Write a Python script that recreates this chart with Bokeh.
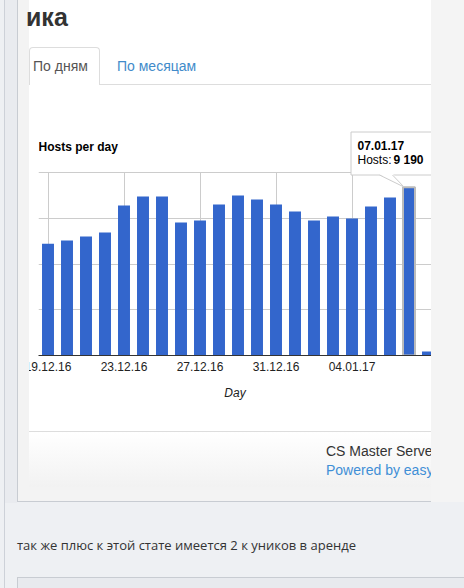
import pandas as pd
from bokeh.plotting import figure
from bokeh.layouts import column, row
from bokeh.models import (Range1d, FixedTicker, DatetimeTickFormatter, BoxAnnotation,
                          Label, PolyAnnotation, Grid, Arrow, Div)
from bokeh.embed import file_html
from bokeh.resources import INLINE

# ---------------- data ----------------
days = ["2016-12-19", "2016-12-20", "2016-12-21", "2016-12-22", "2016-12-23",
        "2016-12-24", "2016-12-25", "2016-12-26", "2016-12-27", "2016-12-28",
        "2016-12-29", "2016-12-30", "2016-12-31", "2017-01-01", "2017-01-02",
        "2017-01-03", "2017-01-04", "2017-01-05", "2017-01-06", "2017-01-07",
        "2017-01-08"]
hosts = [6100, 6280, 6500, 6720, 8200, 8690, 8690, 7270, 7380, 8250,
         8740, 8520, 8250, 7870, 7380, 7600, 7490, 8140, 8630, 9190, 220]
tick_days = ["2016-12-19", "2016-12-23", "2016-12-27", "2016-12-31", "2017-01-04"]
y_ticks = [0, 2500, 5000, 7500, 10000]
focus_day = "2017-01-07"
series_name = "Hosts"
chart_title = "Hosts per day"
x_title = "Day"
page_title = "ика"
tab_active = "По дням"
tab_other = "По месяцам"
footer_1 = "CS Master Serve"
footer_2 = "Powered by easy"
post_text = "так же плюс к этой стате имеется 2 к уников в аренде"

FONT = "Liberation Sans"
DAY = 86400000

# ---------------- layout constants (pixels) ----------------
W, H = 464, 588
TOP_H = 85            # header block height
MID_H = 346           # chart block height
BOT_H = H - TOP_H - MID_H
LEFT_W = 29
RIGHT_W = 33
TUCK = 9              # figure slides under the left strip by this much
FIG_W = W - LEFT_W - RIGHT_W + TUCK
PX_DAY = 19.0
FRAME_LEFT = 18       # inside figure
FRAME_TOP = 15
FRAME_BOTTOM_BORDER = 76
PX_TOP_GRID = 183.0   # pixels from baseline to top gridline

x_ms = [pd.Timestamp(d).value // 10**6 for d in days]
tick_ms = [pd.Timestamp(d).value // 10**6 for d in tick_days]
frame_w = FIG_W - FRAME_LEFT
frame_h = MID_H - FRAME_TOP - FRAME_BOTTOM_BORDER
start = x_ms[0] - DAY / 2
end = start + frame_w / PX_DAY * DAY
y_end = y_ticks[-1] * frame_h / PX_TOP_GRID

p = figure(width=FIG_W, height=MID_H, x_axis_type="datetime", y_axis_type=None,
           x_range=Range1d(start, end), y_range=Range1d(0, y_end),
           output_backend="svg", toolbar_location=None,
           min_border_left=FRAME_LEFT, min_border_right=0, min_border_top=FRAME_TOP,
           min_border_bottom=FRAME_BOTTOM_BORDER, margin=(0, 0, 0, -TUCK))
p.outline_line_color = None
p.background_fill_color = "white"
p.border_fill_color = "white"

# grids
p.xgrid.ticker = FixedTicker(ticks=tick_ms)
p.xgrid.grid_line_color = "#cccccc"
p.xgrid.cross_bounds = (y_ticks[0], y_ticks[-1])
p.add_layout(Grid(dimension=1, ticker=FixedTicker(ticks=y_ticks), grid_line_color="#cccccc"))

# x axis
ax = p.xaxis[0]
ax.ticker = FixedTicker(ticks=tick_ms)
fmt = "%d.%m.%y"
ax.formatter = DatetimeTickFormatter(milliseconds=fmt, seconds=fmt, minsec=fmt, minutes=fmt,
                                     hourmin=fmt, hours=fmt, days=fmt, months=fmt, years=fmt)
ax.major_tick_line_color = None
ax.minor_tick_line_color = None
ax.major_tick_out = 0
ax.major_tick_in = 0
ax.axis_line_color = "#333333"
ax.major_label_text_font = FONT
ax.major_label_text_font_size = "12px"
ax.major_label_text_color = "#222222"
ax.major_label_standoff = 6
ax.axis_label = x_title
ax.axis_label_text_font = FONT
ax.axis_label_text_font_size = "12px"
ax.axis_label_text_font_style = "italic"
ax.axis_label_text_color = "#222222"
ax.axis_label_standoff = 12

# bars
bw = 0.63 * DAY
p.vbar(x=x_ms, top=hosts, width=bw, fill_color="#3366cc", line_color=None)
fi = days.index(focus_day)
p.vbar(x=[x_ms[fi]], top=[hosts[fi]], width=bw, fill_color="#3366cc",
       line_color="#bbbbbb", line_width=2)


def clabel(xx, yy, text, size="12px", color="#000000", style="normal"):
    p.add_layout(Label(x=xx + TUCK, y=yy, x_units="canvas", y_units="canvas", text=text,
                       text_font=FONT, text_font_size=size, text_color=color,
                       text_font_style=style, text_baseline="middle", text_align="left"))


# chart title
clabel(9, 61, chart_title, style="bold")

# tooltip (coordinates relative to the white panel's left edge)
p.add_layout(BoxAnnotation(left=321.5 + TUCK, right=430 + TUCK, top=46.5, bottom=89.5,
                           left_units="canvas", right_units="canvas",
                           top_units="canvas", bottom_units="canvas",
                           fill_color="white", fill_alpha=1.0,
                           line_color="#cccccc", line_alpha=1.0, line_width=1))
p.add_layout(PolyAnnotation(xs=[349.5 + TUCK, 363.5 + TUCK, 374.5 + TUCK], ys=[88.5, 88.5, 101.5],
                            xs_units="canvas", ys_units="canvas",
                            fill_color="white", fill_alpha=1.0, line_color=None))
for xs0 in (350, 363):
    p.add_layout(Arrow(x_start=xs0 + TUCK, y_start=89.5, x_end=374.5 + TUCK, y_end=101.5,
                       start_units="canvas", end_units="canvas", end=None,
                       line_color="#cccccc", line_width=1))
focus_label = pd.Timestamp(focus_day).strftime("%d.%m.%y")
clabel(328, 60, focus_label, style="bold")
clabel(328, 74, series_name + ": ")
clabel(364, 74, f"{hosts[fi]:,}".replace(",", " "), style="bold")

# ---------------- page chrome (HTML) ----------------
LEFT_BG = ("linear-gradient(to right, #eef0f3 0px, #eef0f3 4px, #cdd1d8 4px, #cdd1d8 5px, "
           "#e9ebef 5px, #e9ebef 17px, #c8ccd2 17px, #c8ccd2 18px, #f3f3f3 18px, #f3f3f3 29px)")


def abs_text(left, top, text, size, color, weight="normal", lh=None, extra=""):
    lh = lh or round(size * 1.15)
    return (f'<div style="position:absolute;left:{left}px;top:{top}px;white-space:nowrap;'
            f'font-family:\'{FONT}\';font-size:{size}px;line-height:{lh}px;color:{color};'
            f'font-weight:{weight};{extra}">{text}</div>')


PANEL_W = W - LEFT_W - RIGHT_W
top_html = (
    f'<div style="position:relative;width:{W}px;height:{TOP_H}px;overflow:hidden;background:#f4f4f4;">'
    f'<div style="position:absolute;left:0;top:0;width:{LEFT_W}px;height:{TOP_H}px;background:{LEFT_BG};"></div>'
    f'<div style="position:absolute;left:{LEFT_W}px;top:0;width:{PANEL_W}px;height:{TOP_H}px;background:white;"></div>'
    f'<div style="position:absolute;left:29px;top:47px;width:71px;height:38px;background:white;'
    f'border:1px solid #dddddd;border-bottom:none;border-radius:4px 4px 0 0;box-sizing:border-box;"></div>'
    f'<div style="position:absolute;left:100px;top:84px;width:331px;height:1px;background:#dddddd;"></div>'
    + abs_text(26, 2, page_title, 25, "#333333", "bold", 30)
    + abs_text(33, 58, tab_active, 14, "#555555", lh=16)
    + abs_text(117, 58, tab_other, 14, "#428bca", lh=16)
    + '</div>'
)

left_html = (f'<div style="width:{LEFT_W}px;height:{MID_H}px;background:{LEFT_BG};"></div>')
right_html = f'<div style="width:{RIGHT_W}px;height:{MID_H}px;background:#f4f4f4;"></div>'

bot_html = (
    f'<div style="position:relative;width:{W}px;height:{BOT_H}px;overflow:hidden;background:#eef0f3;">'
    f'<div style="position:absolute;left:4px;top:0;width:1px;height:{BOT_H}px;background:#cdd1d8;"></div>'
    f'<div style="position:absolute;left:5px;top:0;width:12px;height:72px;background:#e9ebef;"></div>'
    f'<div style="position:absolute;left:17px;top:0;width:447px;height:71px;background:#f3f3f3;'
    f'border-left:1px solid #c8ccd2;border-bottom:1px solid #c8ccd2;"></div>'
    f'<div style="position:absolute;left:431px;top:0;width:33px;height:71px;background:#f4f4f4;"></div>'
    f'<div style="position:absolute;left:29px;top:0;width:402px;height:56px;overflow:hidden;'
    f'border-top:1px solid #dddddd;background:linear-gradient(to bottom, #ffffff, #f2f2f2);">'
    + abs_text(297, 11, footer_1, 14, "#333333", lh=16)
    + abs_text(297, 30, footer_2, 14, "#3f8fd6", lh=16)
    + '</div>'
    + abs_text(17, 105, post_text, 13, "#333333", lh=18, extra="font-family:'Open Sans';")
    + f'<div style="position:absolute;left:17px;top:146px;width:460px;height:20px;background:#e8eaee;'
      f'border-left:1px solid #c8ccd2;border-top:1px solid #c8ccd2;"></div>'
    + '</div>'
)

div_kw = dict(margin=0)
top_div = Div(text=top_html, width=W, height=TOP_H, styles={"overflow": "hidden"}, **div_kw)
left_div = Div(text=left_html, width=LEFT_W, height=MID_H,
               styles={"overflow": "hidden", "position": "relative", "z-index": "5"}, **div_kw)
right_div = Div(text=right_html, width=RIGHT_W, height=MID_H, styles={"overflow": "hidden"}, **div_kw)
bot_div = Div(text=bot_html, width=W, height=BOT_H, styles={"overflow": "hidden"}, **div_kw)

mid = row(left_div, p, right_div, spacing=0)
page = column(top_div, mid, bot_div, spacing=0)

open("out.html", "w").write(file_html(page, INLINE))
